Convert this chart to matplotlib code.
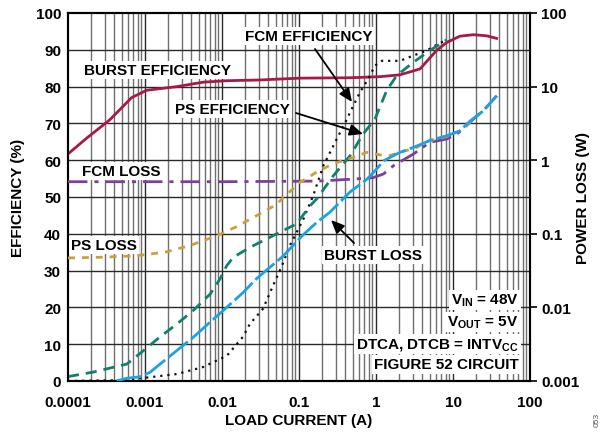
import numpy as np
import matplotlib
matplotlib.use("Agg")
import matplotlib.pyplot as plt
from matplotlib.ticker import NullLocator

plt.rcParams['font.family'] = ['Liberation Sans', 'DejaVu Sans']
plt.rcParams['font.weight'] = 'bold'
plt.rcParams['mathtext.default'] = 'regular'

# ---- data ----
burst_eff_x = [1e-4, 1.75e-4, 3.5e-4, 6.7e-4, 1.05e-3, 2.6e-3, 5.7e-3, 0.0115, 0.031, 0.103,
               0.46, 1.13, 2.05, 3.73, 6.1, 8.3, 12.3, 18.4, 27.4, 36.9]
burst_eff_y = [61.7, 66, 71, 77, 79, 80, 81.2, 81.6, 81.8, 82.3,
               82.4, 82.7, 83.2, 84.8, 89.8, 92, 93.7, 94.1, 93.8, 93.1]

fcm_eff_x = [1e-4, 4.3e-4, 9.4e-4, 2.6e-3, 5.7e-3, 0.0116, 0.0187, 0.023, 0.034, 0.046, 0.06,
             0.076, 0.098, 0.114, 0.153, 0.207, 0.31, 0.42, 0.46, 0.62, 0.79, 0.97, 1.19,
             2.05, 3.03, 4.55, 6.45, 8.3]
fcm_eff_y = [0, 0.2, 0.8, 1.9, 3.8, 6.9, 12, 15.5, 19.6, 25.9, 31.3,
             36.8, 41.3, 44, 50.4, 58.5, 65.8, 71.2, 73, 78.5, 82, 85.7, 87,
             87, 88.4, 89.8, 91.6, 92.7]

ps_eff_x = [1e-4, 2.1e-4, 5.8e-4, 9.5e-4, 1.57e-3, 2.6e-3, 4.2e-3, 7.0e-3, 9.4e-3, 0.0115,
            0.014, 0.023, 0.038, 0.0625, 0.093, 0.139, 0.17, 0.28, 0.46, 0.68, 0.97,
            1.38, 1.86, 3.05, 5.0, 8.3]
ps_eff_y = [1.2, 2.4, 4.6, 8.2, 12, 15.5, 19.1, 23.6, 27.7, 31.3,
            33.6, 36.3, 38.6, 40.9, 42.7, 47.6, 49.5, 55.8, 61.2, 67.1, 71.2,
            79, 83, 86.6, 89.8, 92.7]

fcm_loss_x = [1e-4, 0.01, 0.17, 0.46, 0.92, 1.25, 1.68, 2.05, 3.05, 5.0, 8.3, 11.2,
              13.6, 18.4, 24.8, 36.9]
fcm_loss_y = [0.51, 0.51, 0.52, 0.55, 0.58, 0.65, 0.84, 0.95, 1.21, 1.75, 1.94, 2.27,
              2.65, 3.63, 4.7, 7.5]

ps_loss_x = [1e-4, 2.6e-4, 7e-4, 1.16e-3, 1.91e-3, 3.8e-3, 8.5e-3, 0.0155, 0.028, 0.051,
             0.0625, 0.103, 0.17, 0.28, 0.46, 0.76, 1.13, 1.52, 3.37, 4.55, 8.3, 11.2,
             13.6, 18.4, 24.8, 36.9]
ps_loss_y = [0.047, 0.048, 0.05, 0.053, 0.057, 0.069, 0.094, 0.125, 0.176, 0.25,
             0.31, 0.50, 0.69, 0.9, 1.05, 1.28, 1.18, 1.16, 1.49, 1.79, 2.1, 2.4,
             2.65, 3.63, 4.7, 7.5]

burst_loss_x = [4.3e-4, 5.8e-4, 8.6e-4, 1.16e-3, 1.57e-3, 2.6e-3, 4.2e-3, 7e-3, 0.0115,
                0.0189, 0.028, 0.0625, 0.11, 0.17, 0.25, 0.46, 0.76, 1.02, 1.25, 1.68,
                2.05, 3.05, 5.0, 8.3, 12.3, 16.6, 24.8, 36.9]
burst_loss_y = [0.001, 0.00109, 0.00114, 0.00131, 0.0017, 0.0026, 0.0039, 0.0063, 0.01,
                0.016, 0.0245, 0.05, 0.094, 0.143, 0.195, 0.37, 0.55, 0.76, 0.98, 1.15,
                1.28, 1.49, 1.85, 2.15, 2.5, 3.4, 4.7, 7.5]

x_ticks = [0.0001, 0.001, 0.01, 0.1, 1, 10, 100]
x_ticklabels = ['0.0001', '0.001', '0.01', '0.1', '1', '10', '100']
eff_ticks = list(range(0, 101, 10))
loss_ticks = [0.001, 0.01, 0.1, 1, 10, 100]
loss_ticklabels = ['0.001', '0.01', '0.1', '1', '10', '100']

# ---- colours ----
c_burst = '#A6194B'
c_fcm = '#111111'
c_ps = '#12806F'
c_fcmloss = '#7D3F98'
c_psloss = '#C9A03E'
c_burstloss = '#1AA3DF'

FS = 11

fig = plt.figure(figsize=(6.02, 4.35), dpi=100)
ax = fig.add_axes([68/602, 1-382/435, (530-68)/602, (382-14)/435])
ax.set_xscale('log')
ax.set_xlim(1e-4, 100)
ax.set_ylim(0, 100)

# grid
minor = []
for d in range(-4, 2):
    for m in range(2, 10):
        minor.append(m * 10.0**d)
for xv in minor:
    ax.axvline(xv, color='#707070', lw=1.0, zorder=0)
for xv in x_ticks[1:-1]:
    ax.axvline(xv, color='#2a2a2a', lw=1.0, zorder=0)
for yv in eff_ticks[1:-1]:
    ax.axhline(yv, color='#2a2a2a', lw=1.0, zorder=0)

ax.set_xticks(x_ticks)
ax.set_xticklabels(x_ticklabels)
ax.xaxis.set_minor_locator(NullLocator())
ax.set_yticks(eff_ticks)
ax.tick_params(axis='x', length=0, labelsize=FS, pad=10)
ax.tick_params(axis='y', length=0, labelsize=FS, pad=5)
for lab in ax.get_xticklabels() + ax.get_yticklabels():
    lab.set_fontweight('bold')
for s in ax.spines.values():
    s.set_linewidth(1.5)
    s.set_color('black')

ax2 = ax.twinx()
ax2.set_yscale('log')
ax2.set_ylim(0.001, 100)
ax2.set_yticks(loss_ticks)
ax2.set_yticklabels(loss_ticklabels)
ax2.yaxis.set_minor_locator(NullLocator())
ax2.tick_params(axis='y', length=5, width=1.2, labelsize=FS, pad=3)
for lab in ax2.get_yticklabels():
    lab.set_fontweight('bold')
for s in ax2.spines.values():
    s.set_linewidth(1.5)

def px(x, y):
    return (x / 602, 1 - y / 435)

# axis titles
fig.text(*px(299, 421), 'LOAD CURRENT (A)', ha='center', va='center', fontsize=FS, fontweight='bold')
fig.text(*px(18, 198), 'EFFICIENCY (%)', ha='center', va='center', rotation=90, fontsize=FS, fontweight='bold')
fig.text(*px(583, 198), 'POWER LOSS (W)', ha='center', va='center', rotation=90, fontsize=FS, fontweight='bold')

# white info box covering the grid
tb = dict(facecolor='white', edgecolor='none', pad=1.5)
info_x = 0.975
info_lines = [(r'V$_{IN}$ = 48V', 0.220),
              (r'V$_{OUT}$ = 5V', 0.160),
              (r'DTCA, DTCB = INTV$_{CC}$', 0.100),
              ('FIGURE 52 CIRCUIT', 0.045)]
for t, yy in info_lines:
    ax.text(info_x, yy, t, transform=ax.transAxes, ha='right', va='center',
            fontsize=FS, fontweight='bold', bbox=tb, zorder=1)

# efficiency curves
ax.plot(burst_eff_x, burst_eff_y, color=c_burst, lw=2, zorder=3)
ax.plot(fcm_eff_x, fcm_eff_y, color=c_fcm, lw=1.6, ls=(0, (1, 2.2)), zorder=3)
ax.plot(ps_eff_x, ps_eff_y, color=c_ps, lw=2, ls=(0, (4, 2.5)), zorder=3)

# loss curves
ax2.plot(fcm_loss_x, fcm_loss_y, color=c_fcmloss, lw=2, ls=(0, (7, 2.5, 1.5, 2.5)), zorder=3)
ax2.plot(ps_loss_x, ps_loss_y, color=c_psloss, lw=2, ls=(0, (2.5, 2.5)), zorder=3)
ax2.plot(burst_loss_x, burst_loss_y, color=c_burstloss, lw=2, ls=(0, (9, 1.5)), zorder=3)

# labels
lb = dict(facecolor='white', edgecolor='none', pad=1.5)

def lab(text, x, y):
    fig.text(*px(x, y), text, ha='center', va='center', fontsize=FS, fontweight='bold',
             bbox=lb, zorder=5)

lab('BURST EFFICIENCY', 157, 71)
lab('FCM EFFICIENCY', 309, 37)
lab('PS EFFICIENCY', 232, 110)
lab('FCM LOSS', 121, 172)
lab('PS LOSS', 104, 246)
lab('BURST LOSS', 373, 256)

def arrow(x0, y0, x1, y1):
    fig.add_artist(matplotlib.patches.FancyArrowPatch(
        px(x0, y0), px(x1, y1), transform=fig.transFigure,
        arrowstyle='-|>,head_length=8,head_width=3.5', color='black', lw=1.3,
        shrinkA=0, shrinkB=0, zorder=6))

arrow(315, 50, 352, 103)
arrow(296, 114, 363, 135)
arrow(354, 244, 331, 221)

fig.text(597 / 602, 1 - 420 / 435, '053', rotation=90, fontsize=6, color='#555555',
         fontweight='normal', ha='center', va='center')

fig.savefig('out.png', dpi=100)
